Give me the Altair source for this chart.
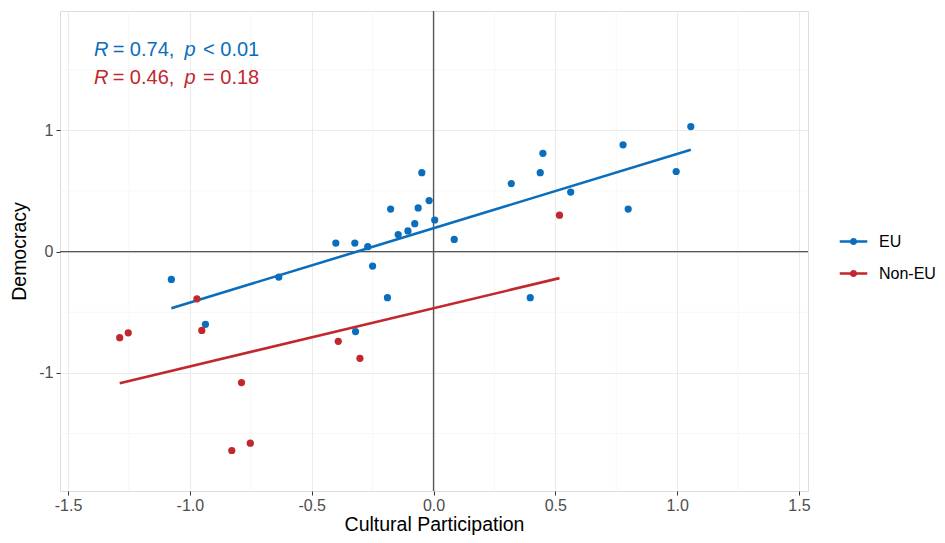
import altair as alt
import pandas as pd

# ---- data ----
eu_x = [-1.076, -0.936, -0.635, -0.401, -0.323, -0.320, -0.270, -0.250, -0.189,
        -0.176, -0.145, -0.105, -0.077, -0.063, -0.048, -0.018, 0.005, 0.085,
        0.319, 0.397, 0.438, 0.449, 0.563, 0.778, 0.799, 0.996, 1.056]
eu_y = [-0.23, -0.60, -0.21, 0.07, 0.07, -0.66, 0.04, -0.12, -0.38,
        0.35, 0.14, 0.17, 0.23, 0.36, 0.65, 0.42, 0.26, 0.10,
        0.56, -0.38, 0.65, 0.81, 0.49, 0.88, 0.35, 0.66, 1.03]
noneu_x = [-1.288, -1.253, -0.971, -0.951, -0.828, -0.788, -0.752, -0.391, -0.302, 0.517]
noneu_y = [-0.71, -0.67, -0.39, -0.65, -1.64, -1.08, -1.58, -0.74, -0.88, 0.30]

groups = ["EU", "Non-EU"]
colors = ["#0A6EBD", "#C1272D"]

x_ticks = [-1.5, -1.0, -0.5, 0.0, 0.5, 1.0, 1.5]
y_ticks = [-1, 0, 1]
x_minor = [-1.25, -0.75, -0.25, 0.25, 0.75, 1.25]
y_minor = [-1.5, -0.5, 0.5, 1.5]

ann_text = ["R", "= 0.74,", "p", "< 0.01", "R", "= 0.46,", "p", "= 0.18"]
ann_italic = [True, False, True, False, True, False, True, False]
ann_group = ["EU"] * 4 + ["Non-EU"] * 4
ann_x = [-1.393, -1.317, -1.022, -0.946, -1.393, -1.317, -1.022, -0.946]
ann_y = [1.612] * 4 + [1.381] * 4

FONT = "Liberation Sans"

df = pd.DataFrame({
    "x": eu_x + noneu_x,
    "y": eu_y + noneu_y,
    "group": ["EU"] * len(eu_x) + ["Non-EU"] * len(noneu_x),
})
ann = pd.DataFrame({"text": ann_text, "italic": ann_italic, "group": ann_group,
                    "x": ann_x, "y": ann_y})

xdom = [-1.533, 1.537]
ydom = [-1.974, 1.983]

xs = alt.Scale(domain=xdom, nice=False, zero=False)
ys = alt.Scale(domain=ydom, nice=False, zero=False)
cs = alt.Scale(domain=groups, range=colors)

xaxis = alt.Axis(values=x_ticks, format=".1f", title="Cultural Participation",
                 labelExpr="replace(datum.label, '\u2212', '-')",
                 grid=True, gridColor="#EBEBEB", gridWidth=1.1, domain=False,
                 tickColor="#333333", tickSize=4, labelColor="#4D4D4D",
                 labelFontSize=16, labelFont=FONT, labelPadding=2,
                 titleFontSize=19.5, titleFont=FONT, titleFontWeight="normal",
                 titleColor="#000000", titlePadding=2)
yaxis = alt.Axis(values=y_ticks, format="d", title="Democracy",
                 labelExpr="replace(datum.label, '\u2212', '-')",
                 grid=True, gridColor="#EBEBEB", gridWidth=1.1, domain=False,
                 tickColor="#333333", tickSize=4, labelColor="#4D4D4D",
                 labelFontSize=16, labelFont=FONT, labelPadding=3,
                 titleFontSize=19.5, titleFont=FONT, titleFontWeight="normal",
                 titleColor="#000000", titlePadding=9)

sym_path = ("M-1,0L1,0M-0.17,0A0.17,0.17 0 1,1 0.17,0"
            "A0.17,0.17 0 1,1 -0.17,0Z")
legend = alt.Legend(title=None, orient="none", legendX=778, legendY=215,
                    symbolType=sym_path, symbolSize=760, symbolStrokeWidth=2.5,
                    labelFontSize=16, labelFont=FONT, labelColor="#000000",
                    labelOffset=10, rowPadding=8, padding=0)

minor_x = alt.Chart(pd.DataFrame({"v": x_minor})).mark_rule(
    color="#F3F3F3", strokeWidth=0.7).encode(x=alt.X("v:Q", scale=xs, axis=xaxis))
minor_y = alt.Chart(pd.DataFrame({"v": y_minor})).mark_rule(
    color="#F3F3F3", strokeWidth=0.7).encode(y=alt.Y("v:Q", scale=ys, axis=yaxis))

zero_v = alt.Chart(pd.DataFrame({"v": [0.0]})).mark_rule(
    color="#555555", strokeWidth=1.3).encode(x=alt.X("v:Q", scale=xs, axis=xaxis))
zero_h = alt.Chart(pd.DataFrame({"v": [0.0]})).mark_rule(
    color="#555555", strokeWidth=1.3).encode(y=alt.Y("v:Q", scale=ys, axis=yaxis))

base = alt.Chart(df)

lines = base.transform_regression("x", "y", groupby=["group"]).mark_line(
    strokeWidth=2.6).encode(
    x=alt.X("x:Q", scale=xs, axis=xaxis),
    y=alt.Y("y:Q", scale=ys, axis=yaxis),
    stroke=alt.Stroke("group:N", scale=cs, legend=legend),
)

points = base.mark_point(filled=True, size=52, strokeWidth=0, opacity=1).encode(
    x=alt.X("x:Q", scale=xs, axis=xaxis),
    y=alt.Y("y:Q", scale=ys, axis=yaxis),
    fill=alt.Fill("group:N", scale=cs, legend=legend),
    stroke=alt.Stroke("group:N", scale=cs, legend=legend),
)

txt_it = alt.Chart(ann).transform_filter("datum.italic").mark_text(
    align="left", baseline="alphabetic", fontSize=20, font=FONT,
    fontStyle="italic").encode(
    x=alt.X("x:Q", scale=xs, axis=xaxis), y=alt.Y("y:Q", scale=ys, axis=yaxis),
    text="text:N", color=alt.Color("group:N", scale=cs, legend=None))
txt_n = alt.Chart(ann).transform_filter("!datum.italic").mark_text(
    align="left", baseline="alphabetic", fontSize=20, font=FONT).encode(
    x=alt.X("x:Q", scale=xs, axis=xaxis), y=alt.Y("y:Q", scale=ys, axis=yaxis),
    text="text:N", color=alt.Color("group:N", scale=cs, legend=None))

chart = alt.layer(minor_x, minor_y, zero_v, zero_h, lines, points, txt_it, txt_n).properties(
    width=748, height=480,
    autosize=alt.AutoSizeParams(type="none"),
    padding={"left": 52, "top": 3, "right": 129, "bottom": 45},
).configure_view(stroke="#333333", strokeWidth=1.1).configure(background="white")

chart.save("out.html", embed_options={"renderer": "svg", "actions": False})
